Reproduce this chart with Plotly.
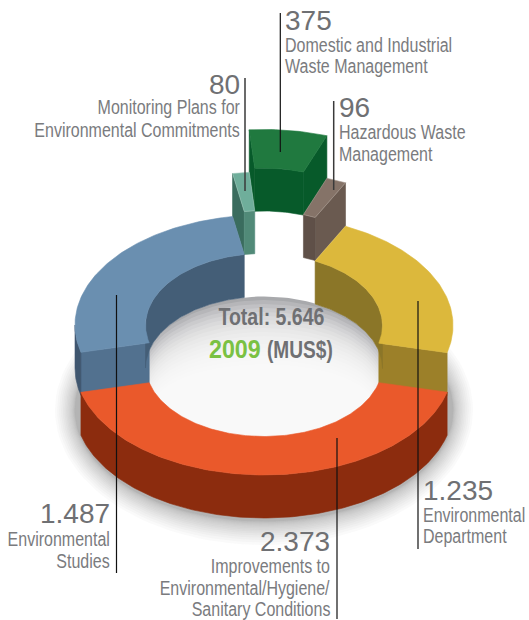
import json
import math
import plotly.graph_objects as go

# Budget by programme, 2009 (MUS$)
categories = [
    "Improvements to Environmental/Hygiene/Sanitary Conditions",
    "Environmental Studies",
    "Monitoring Plans for Environmental Commitments",
    "Domestic and Industrial Waste Management",
    "Hazardous Waste Management",
    "Environmental Department",
]
values = [2373, 1487, 80, 375, 96, 1235]
value_labels = ["2.373", "1.487", "80", "375", "96", "1.235"]

# Stepped ring: vertical centre of each slice's top face
tier_y = [365, 325, 282, 239.5, 282, 325.5]
top_colors = ["#ea592b", "#6a8fb0", "#6fae9b", "#20793f", "#857368", "#dcb83c"]
top_edges = ["#ea592b", "#6a8fb0", "#9cc7b8", "#20793f", "#a89a90", "#dcb83c"]
outer_colors = ["#8c2c0e", "#3f566f", "#3f6f60", "#075a2a", "#6a5a50", "#a28726"]
inner_colors = ["#8c2c0e", "#445e77", "#518a78", "#075a2a", "#5f5048", "#8b7628"]
cut_colors = ["#8c2c0e", "#52718f", "#3a6c5e", "#075a2a", "#6a5a50", "#9c8029"]

CX, R_OUT, R_IN, B_OUT, B_IN, DEPTH = 264, 189, 118.5, 110, 71.5, 43
START_ANGLE = 104.3
ARC_STEP = 1.0


def arc(cy, r, b, a0, a1, dy=0.0):
    n = max(2, int(abs(a1 - a0) / ARC_STEP) + 2)
    xs, ys = [], []
    for i in range(n):
        t = math.radians(a0 + (a1 - a0) * i / (n - 1))
        xs.append(CX + r * math.sin(t))
        ys.append(cy - b * math.cos(t) + dy)
    return xs, ys


def patch(xs, ys, color, opacity=1.0, edge=0.6, edge_color=None):
    return go.Scatter(
        x=xs + xs[:1], y=ys + ys[:1], mode="lines", fill="toself", fillcolor=color,
        line=dict(color=edge_color or color, width=edge), opacity=opacity,
        hoverinfo="skip", showlegend=False,
    )


def wall(cy, r, b, a0, a1, color):
    xs, ys = arc(cy, r, b, a0, a1)
    xb, yb = arc(cy, r, b, a1, a0, DEPTH)
    return patch(xs + xb, ys + yb, color)


def ellipse(cx, cy, rx, ry, color, opacity):
    ts = [math.radians(i * 3) for i in range(120)]
    return patch([cx + rx * math.sin(t) for t in ts], [cy - ry * math.cos(t) for t in ts],
                 color, opacity, 0)


def slice_traces(i, a0, a1):
    cy = tier_y[i]
    out = []

    # Side faces of the cut ends, when they turn towards the viewer
    for a, is_start in ((a0, True), (a1, False)):
        s = math.sin(math.radians(a))
        if (is_start and s < 0) or (not is_start and s > 0):
            xo, yo = arc(cy, R_OUT, B_OUT, a, a)
            xi, yi = arc(cy, R_IN, B_IN, a, a)
            out.append(patch(
                [xo[0], xi[0], xi[0], xo[0]],
                [yo[0], yi[0], yi[0] + DEPTH, yo[0] + DEPTH],
                cut_colors[i]))

    # Far inner wall: the part of the arc on the back half of the ring
    for lo, hi in ((a0, min(a1, 90)), (max(a0, 270), min(a1, 450))):
        if hi > lo:
            out.append(wall(cy, R_IN, B_IN, lo, hi, inner_colors[i]))

    # Near outer wall: the part on the front half
    lo, hi = max(a0, 90), min(a1, 270)
    if hi > lo:
        out.append(wall(cy, R_OUT, B_OUT, lo, hi, outer_colors[i]))

    xo, yo = arc(cy, R_OUT, B_OUT, a0, a1)
    xi, yi = arc(cy, R_IN, B_IN, a1, a0)
    out.append(patch(xo + xi, yo + yi, top_colors[i], edge_color=top_edges[i]))
    return out


traces = []

# Soft shadow of the ring on the page, denser towards the ring
LAYERS = 18
for k in range(LAYERS):
    grow = (1 - k / LAYERS) ** 2
    traces.append(ellipse(CX, 410, R_OUT + 20 * grow, 111 + 24 * grow, "#58585a", 0.032))

# Clear the middle, then shade the floor of the hole, fading away from the far wall
traces.append(ellipse(CX, 325, R_OUT - 20, B_OUT - 10, "#ffffff", 1))
traces.append(ellipse(CX, 400, R_OUT - 20, B_OUT - 10, "#ffffff", 1))
traces.append(ellipse(CX, 368, R_IN, B_IN, "#98999d", 1))
for k in range(18):
    top = 296 + 4 * k
    bottom = 450
    traces.append(ellipse(CX, (top + bottom) / 2, R_IN + 6 - k * 0.8, (bottom - top) / 2, "#ffffff", 0.16))

# Slice angles follow the values; painted back to front
total = sum(values)
angles = [START_ANGLE]
for v in values:
    angles.append(angles[-1] + 360 * v / total)
spans = {i: (angles[i], angles[i + 1]) for i in range(len(values))}
for i in (3, 2, 4, 1, 5, 0):
    traces.extend(slice_traces(i, *spans[i]))

# Leader lines: x, top, bottom, colour, width
leaders = [
    (280.3, 13, 152, "#111111", 1.2),
    (245, 78, 191, "#3a3a3a", 1.5),
    (333.7, 101, 190, "#3a3a3a", 1.5),
    (116.5, 295, 573, "#111111", 1.2),
    (418, 301, 549, "#111111", 1.2),
    (337, 438, 619, "#111111", 1.2),
]
for x, y0, y1, color, width in leaders:
    traces.append(go.Scatter(x=[x, x], y=[y0, y1], mode="lines", line=dict(color=color, width=width),
                             hoverinfo="skip", showlegend=False))

fig = go.Figure(traces)

FONT = "Liberation Sans"
GREY = "#6f7073"
LABEL_GREY = "#7a7b7e"
VALUE_SIZE = 28
squeeze = []


def label(x, y, text, anchor, size, color=LABEL_GREY, factor=0.8):
    squeeze.append(factor)
    fig.add_annotation(x=x, y=y, text=text, showarrow=False, xanchor=anchor, yanchor="middle",
                       xref="x", yref="y", font=dict(family=FONT, size=size, color=color),
                       borderpad=0, borderwidth=0)


def block(x, y_value, y_lines, anchor, value, lines):
    label(x, y_value, value, anchor, VALUE_SIZE, GREY, 1.0)
    for y, line in zip(y_lines, lines):
        label(x, y, line, anchor, 20)


block(285, 20, [45, 66], "left", value_labels[3], ["Domestic and Industrial", "Waste Management"])
block(240, 84, [107, 130], "right", value_labels[2], ["Monitoring Plans for", "Environmental Commitments"])
block(339, 107, [132, 154], "left", value_labels[4], ["Hazardous Waste", "Management"])
block(423, 490, [515, 536], "left", value_labels[5], ["Environmental", "Department"])
block(330, 541, [566, 588, 609], "right", value_labels[0],
      ["Improvements to", "Environmental/Hygiene/", "Sanitary Conditions"])
block(110, 513, [539, 561], "right", value_labels[1], ["Environmental", "Studies"])

label(271, 317, "<b>Total: 5.646</b>", "center", 23, GREY, 0.85)
label(209, 349, "<b>2009</b>", "left", 25, "#7ac143", 0.93)
label(267, 350, "<b>(MUS$)</b>", "left", 23, GREY, 0.83)

fig.update_layout(
    width=529, height=620, margin=dict(l=0, r=0, t=0, b=0),
    paper_bgcolor="white", plot_bgcolor="white", showlegend=False,
    xaxis=dict(range=[0, 529], visible=False, fixedrange=True),
    yaxis=dict(range=[620, 0], visible=False, fixedrange=True),
)

# Condensed captions: squeeze each label horizontally about its anchor side
CONDENSE = """
var gd = document.getElementById('{plot_id}');
var factors = FACTORS;
function condense() {
  var specs = gd.layout.annotations;
  gd.querySelectorAll('.annotation').forEach(function (g, i) {
    var spec = specs[i];
    if (!spec || factors[i] === 1) return;
    var t = g.querySelector('text');
    var b = t.getBBox();
    var ax = spec.xanchor === 'left' ? b.x : spec.xanchor === 'right' ? b.x + b.width : b.x + b.width / 2;
    t.setAttribute('transform', 'translate(' + ax + ',0) scale(' + factors[i] + ',1) translate(' + (-ax) + ',0)');
  });
}
condense();
setTimeout(condense, 50);
""".replace("FACTORS", json.dumps(squeeze))

fig.write_html("out.html", config=dict(displayModeBar=False), post_script=CONDENSE)
